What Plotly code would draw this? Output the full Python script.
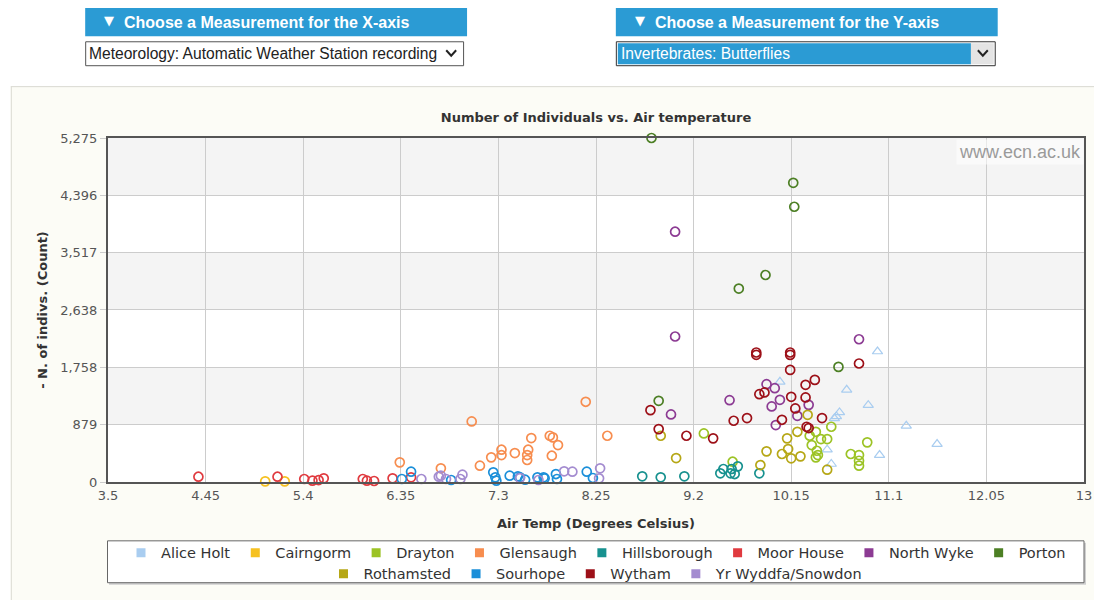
import plotly.graph_objects as go

# ---------------- data ----------------
sites = ["Alice Holt", "Cairngorm", "Drayton", "Glensaugh", "Hillsborough", "Moor House",
         "North Wyke", "Porton", "Rothamsted", "Sourhope", "Wytham", "Yr Wyddfa/Snowdon"]
colors = ["#a9cdf0", "#f6c120", "#9cc325", "#f78d4f", "#17918f", "#e03a3f",
          "#8c3b93", "#4c7f24", "#b6a716", "#1b8fd9", "#9d1018", "#a48cd0"]

alice_x = [10.99, 10.04, 10.69, 10.90, 10.62, 10.59, 10.57, 11.27, 11.57, 11.01, 10.50, 10.54]
alice_y = [2001, 1536, 1413, 1179, 1067, 1006, 975, 862, 582, 413, 495, 276]

cairngorm_x = [5.03, 5.22]
cairngorm_y = [10, 10]

drayton_x = [9.30, 10.33, 10.39, 10.44, 10.50, 10.54, 10.35, 10.40, 10.41, 10.39, 10.73, 10.81, 10.81, 10.81, 10.89, 9.58]
drayton_y = [745, 709, 770, 658, 658, 847, 566, 479, 413, 378, 429, 413, 326, 250, 608, 311]

glensaugh_x = [6.34, 6.74, 7.04, 7.12, 7.23, 7.33, 7.33, 7.46, 7.59, 7.58, 7.58, 7.62, 7.80, 7.83, 7.88, 7.82, 8.36, 8.15]
glensaugh_y = [301, 210, 929, 250, 378, 495, 413, 444, 495, 413, 337, 674, 709, 684, 566, 403, 709, 1230]

hills_x = [8.70, 8.88, 9.11, 9.46, 9.49, 9.57, 9.60, 9.63, 9.56, 9.84]
hills_y = [87, 72, 87, 133, 199, 199, 122, 240, 133, 133]

moor_x = [4.38, 5.15, 5.41, 5.49, 5.55, 5.60, 5.98, 6.02, 6.09, 6.27, 6.45]
moor_y = [81, 81, 46, 20, 30, 56, 46, 20, 15, 56, 72]

wyke_x = [9.02, 9.02, 10.81, 9.55, 8.98, 9.91, 9.99, 10.04, 9.96, 10.00, 10.32, 10.21]
wyke_y = [3838, 2231, 2189, 1255, 1036, 1500, 1439, 1260, 1159, 873, 1183, 1015]

porton_x = [8.79, 10.17, 10.18, 9.90, 9.64, 8.86, 10.61]
porton_y = [5275, 4588, 4221, 3174, 2966, 1245, 1765]

rotham_x = [8.88, 9.03, 9.85, 9.91, 10.11, 10.21, 10.31, 10.06, 10.12, 10.15, 10.24, 10.50]
rotham_y = [709, 367, 260, 470, 669, 770, 1030, 429, 505, 363, 393, 189]

sour_x = [6.36, 6.45, 6.84, 7.25, 7.27, 7.28, 7.41, 7.49, 7.51, 7.56, 7.68, 7.74, 7.75, 7.86, 7.87, 8.16, 8.22]
sour_y = [46, 158, 31, 148, 72, 20, 97, 87, 72, 35, 72, 72, 56, 122, 46, 158, 61]

wytham_x = [8.78, 8.86, 9.13, 9.39, 9.59, 9.72, 9.84, 9.89, 10.06, 9.81, 9.81, 10.14, 10.14, 10.14,
            10.29, 10.38, 10.15, 10.29, 10.19, 10.30, 10.32, 10.45, 10.81]
wytham_y = [1102, 811, 709, 669, 939, 980, 1347, 1373, 954, 1986, 1950, 1986, 1949, 1719,
            1490, 1566, 1306, 1297, 1128, 847, 827, 980, 1817]

snow_x = [6.55, 6.72, 6.79, 6.74, 6.93, 6.95, 7.51, 7.69, 7.94, 8.02, 8.29, 8.28]
snow_y = [46, 81, 46, 97, 46, 112, 60, 31, 164, 158, 210, 56]

series_x = [alice_x, cairngorm_x, drayton_x, glensaugh_x, hills_x, moor_x,
            wyke_x, porton_x, rotham_x, sour_x, wytham_x, snow_x]
series_y = [alice_y, cairngorm_y, drayton_y, glensaugh_y, hills_y, moor_y,
            wyke_y, porton_y, rotham_y, sour_y, wytham_y, snow_y]

x_ticks = [3.5, 4.45, 5.4, 6.35, 7.3, 8.25, 9.2, 10.15, 11.1, 12.05, 13]
x_tick_labels = ["3.5", "4.45", "5.4", "6.35", "7.3", "8.25", "9.2", "10.15", "11.1", "12.05", "13"]
y_ticks = [0, 879, 1758, 2638, 3517, 4396, 5275]
y_tick_labels = ["0", "879", "1,758", "2,638", "3,517", "4,396", "5,275"]

chart_title = "Number of Individuals vs. Air temperature"
x_title = "Air Temp (Degrees Celsius)"
y_title = "- N. of indivs. (Count)"
x_select_header = "Choose a Measurement for the X-axis"
y_select_header = "Choose a Measurement for the Y-axis"
x_select_value = "Meteorology: Automatic Weather Station recording"
y_select_value = "Invertebrates: Butterflies"

# ---------------- geometry (page pixel coords, page body has 8px margin) ----------------
OFF = 8
PAGE_W, PAGE_H = 1102, 600
W, H = PAGE_W - OFF, PAGE_H - OFF
PLOT_L, PLOT_R, PLOT_T, PLOT_B = 108, 1092, 138, 483   # page coords of plot area
L = PLOT_L - OFF
R = W - (PLOT_R - OFF)
T = PLOT_T - OFF
B = H - (PLOT_B - OFF)
PW = PLOT_R - PLOT_L
PH = PLOT_B - PLOT_T


def px(x):
    return (x - PLOT_L) / PW


def py(y):
    return (PLOT_B - y) / PH


FONT = "DejaVu Sans"
UIFONT = "Liberation Sans"
BLUE = "#2b9bd4"

fig = go.Figure()

for name, col, xs, ys in zip(sites, colors, series_x, series_y):
    sym = "triangle-up" if name == "Alice Holt" else "circle"
    fig.add_trace(go.Scatter(
        x=xs, y=ys, mode="markers", name=name, showlegend=False, cliponaxis=False,
        marker=dict(symbol=sym, size=9 if sym == "circle" else 9, color="rgba(255,255,255,0)",
                    line=dict(color=col, width=1.7 if sym == "circle" else 1.2)),
        hovertemplate=name + "<br>%{x}, %{y}<extra></extra>"))

# legend entries (filled squares), split into two centred rows
for i, (name, col) in enumerate(zip(sites, colors)):
    fig.add_trace(go.Scatter(
        x=[None], y=[None], mode="markers", name=name,
        legend="legend" if i < 8 else "legend2",
        marker=dict(symbol="square", size=9, color=col)))

shapes = []
# alternating bands
for i in range(len(y_ticks) - 1):
    shapes.append(dict(type="rect", xref="x domain", yref="y", x0=0, x1=1,
                       y0=y_ticks[i], y1=y_ticks[i + 1], layer="below", line_width=0,
                       fillcolor="#f4f4f4" if i % 2 == 1 else "#ffffff"))
# white header area
shapes.append(dict(type="rect", xref="paper", yref="paper", x0=px(0), x1=px(PAGE_W + 5),
                   y0=py(86), y1=py(0), fillcolor="#ffffff", line_width=0, layer="below"))
shapes.append(dict(type="rect", xref="paper", yref="paper", x0=px(0), x1=px(10),
                   y0=py(PAGE_H + 5), y1=py(0), fillcolor="#ffffff", line_width=0, layer="below"))
# container border
shapes.append(dict(type="line", xref="paper", yref="paper", x0=px(10), x1=px(PAGE_W + 5),
                   y0=py(86.5), y1=py(86.5), line=dict(color="#d9d9d2", width=1)))
shapes.append(dict(type="line", xref="paper", yref="paper", x0=px(10.5), x1=px(10.5),
                   y0=py(86.5), y1=py(PAGE_H + 5), line=dict(color="#d9d9d2", width=1)))
# header bars
for x0, x1 in [(85, 470), (620, 1005)]:
    shapes.append(dict(type="rect", xref="paper", yref="paper", x0=px(x0), x1=px(x1),
                       y0=py(36), y1=py(7), fillcolor=BLUE, line_width=0))
# select boxes
shapes.append(dict(type="rect", xref="paper", yref="paper", x0=px(85.5), x1=px(466.5),
                   y0=py(65.5), y1=py(41.5), fillcolor="#ffffff", line=dict(color="#555555", width=1)))
shapes.append(dict(type="rect", xref="paper", yref="paper", x0=px(620.5), x1=px(1002.5),
                   y0=py(65.5), y1=py(41.5), fillcolor="#ffffff", line=dict(color="#333333", width=1)))
shapes.append(dict(type="rect", xref="paper", yref="paper", x0=px(622), x1=px(978),
                   y0=py(64), y1=py(43), fillcolor=BLUE, line_width=0))
shapes.append(dict(type="rect", xref="paper", yref="paper", x0=px(978), x1=px(1001),
                   y0=py(64), y1=py(43), fillcolor="#e4e4e4", line_width=0))


def chevron(cx, cy):
    return dict(type="path", xref="paper", yref="paper",
                path="M {} {} L {} {} L {} {}".format(px(cx - 5), py(cy - 3), px(cx), py(cy + 2.5),
                                                      px(cx + 5), py(cy - 3)),
                line=dict(color="#222222", width=2))


shapes.append(chevron(454, 53))
shapes.append(chevron(990, 53))
# legend box (with shadow)
shapes.append(dict(type="rect", xref="paper", yref="paper", x0=px(109), x1=px(1094),
                   y0=py(586), y1=py(544), fillcolor="#cfcfcf", line_width=0, layer="below"))
shapes.append(dict(type="rect", xref="paper", yref="paper", x0=px(107.5), x1=px(1092),
                   y0=py(584), y1=py(542), fillcolor="#ffffff", line=dict(color="#666666", width=1),
                   layer="below"))

annotations = [
    dict(text="▼", x=px(102), y=py(20), xref="paper", yref="paper", xanchor="left",
         yanchor="middle", showarrow=False, font=dict(family=FONT, size=13, color="#ffffff")),
    dict(text="<b>" + x_select_header + "</b>", x=px(122), y=py(22), xref="paper", yref="paper",
         xanchor="left", yanchor="middle", showarrow=False,
         font=dict(family=UIFONT, size=16, color="#ffffff")),
    dict(text="▼", x=px(637), y=py(20), xref="paper", yref="paper", xanchor="left",
         yanchor="middle", showarrow=False, font=dict(family=FONT, size=13, color="#ffffff")),
    dict(text="<b>" + y_select_header + "</b>", x=px(657), y=py(22), xref="paper", yref="paper",
         xanchor="left", yanchor="middle", showarrow=False,
         font=dict(family=UIFONT, size=16, color="#ffffff")),
    dict(text=x_select_value, x=px(87), y=py(53.5), xref="paper", yref="paper",
         xanchor="left", yanchor="middle", showarrow=False,
         font=dict(family=UIFONT, size=15.6, color="#222222")),
    dict(text=y_select_value, x=px(623), y=py(53.5), xref="paper", yref="paper",
         xanchor="left", yanchor="middle", showarrow=False,
         font=dict(family=UIFONT, size=15.6, color="#ffffff")),
    dict(text="www.ecn.ac.uk", x=1, y=py(139), xref="paper", yref="paper",
         xanchor="right", yanchor="top", showarrow=False, bgcolor="rgba(255,255,255,0.55)",
         borderpad=2, font=dict(family=UIFONT, size=18, color="#9a9a9a")),
]

fig.update_layout(
    width=W, height=H, autosize=False,
    margin=dict(l=L, r=R, t=T, b=B, pad=0),
    paper_bgcolor="#fcfcf6", plot_bgcolor="#ffffff",
    title=dict(text="<b>" + chart_title + "</b>", x=0.5, xref="paper", xanchor="center",
               y=1 - (117 - OFF) / H, yref="container", yanchor="middle",
               font=dict(family=FONT, size=13, color="#333333")),
    xaxis=dict(range=[x_ticks[0], x_ticks[-1]], tickmode="array", tickvals=x_ticks,
               ticktext=x_tick_labels, showgrid=True, gridcolor="#cccccc", gridwidth=1,
               showline=True, linecolor="#555555", linewidth=2, mirror=True, zeroline=False,
               ticks="", tickfont=dict(family=FONT, size=13, color="#555555"),
               title=dict(text="<b>" + x_title + "</b>", standoff=17,
                          font=dict(family=FONT, size=13, color="#333333"))),
    yaxis=dict(range=[y_ticks[0], y_ticks[-1]], tickmode="array", tickvals=y_ticks,
               ticktext=y_tick_labels, showgrid=True, gridcolor="#cccccc", gridwidth=1,
               showline=True, linecolor="#555555", linewidth=2, mirror=True, zeroline=False,
               ticks="outside", ticklen=6, tickcolor="#cccccc",
               tickfont=dict(family=FONT, size=13, color="#555555"),
               title=dict(text="<b>" + y_title + "</b>", standoff=10,
                          font=dict(family=FONT, size=13, color="#333333"))),
    legend=dict(orientation="h", x=0.5, xanchor="center", y=py(554), yanchor="middle",
                bgcolor="rgba(0,0,0,0)", font=dict(family=FONT, size=14.5, color="#333333"),
                itemwidth=30, tracegroupgap=0),
    legend2=dict(orientation="h", x=0.5, xanchor="center", y=py(575), yanchor="middle",
                 bgcolor="rgba(0,0,0,0)", font=dict(family=FONT, size=14.5, color="#333333"),
                 itemwidth=30, tracegroupgap=0),
    shapes=shapes, annotations=annotations,
)

fig.write_html("out.html")
